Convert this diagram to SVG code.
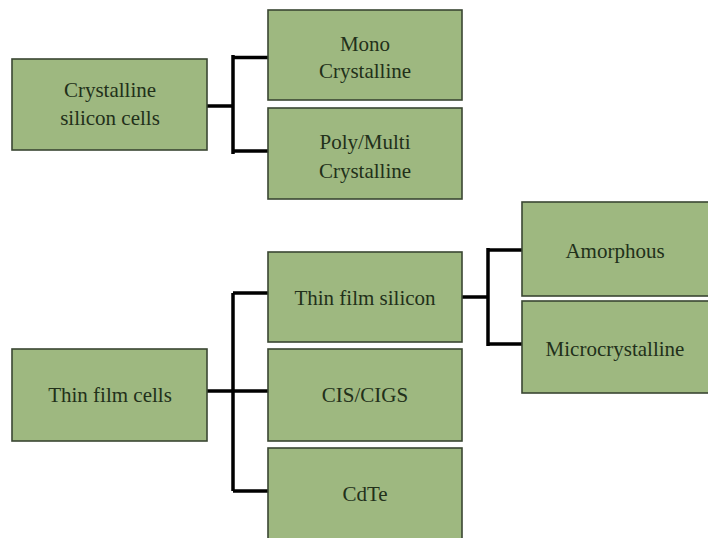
<svg xmlns="http://www.w3.org/2000/svg" width="708" height="538" viewBox="0 0 708 538">
<style>
.box{fill:#9eb880;stroke:#3a4632;stroke-width:1.6}
.t{font-family:"Liberation Serif","Times New Roman",serif;font-size:21px;fill:#22301a;text-anchor:middle}
.c{fill:none;stroke:#000;stroke-width:3.5;stroke-linecap:butt}
</style>
<rect width="708" height="538" fill="#fff"/>
<g id="connectors">
<path class="c" d="M207 106 H233 M233 55 V154 M233 57.5 H268 M233 151 H268"/>
<path class="c" d="M207 391 H233 M233 293 V491 M233 293 H268 M233 391 H268 M233 491 H268"/>
<path class="c" d="M462 297 H488 M488 248 V346 M488 250 H522 M488 344 H522"/>
</g>
<g id="crystalline">
<rect class="box" x="12" y="59" width="195" height="91"/>
<text class="t" x="110" y="97">Crystalline</text>
<text class="t" x="110" y="125">silicon cells</text>
</g>
<g id="mono">
<rect class="box" x="268" y="10" width="194" height="90"/>
<text class="t" x="365" y="51">Mono</text>
<text class="t" x="365" y="78">Crystalline</text>
</g>
<g id="poly">
<rect class="box" x="268" y="108" width="194" height="91"/>
<text class="t" x="365" y="149">Poly/Multi</text>
<text class="t" x="365" y="178">Crystalline</text>
</g>
<g id="thinfilmcells">
<rect class="box" x="12" y="349" width="195" height="92"/>
<text class="t" x="110" y="402">Thin film cells</text>
</g>
<g id="thinfilmsilicon">
<rect class="box" x="268" y="252" width="194" height="90"/>
<text class="t" x="365" y="305">Thin film silicon</text>
</g>
<g id="cis">
<rect class="box" x="268" y="349" width="194" height="92"/>
<text class="t" x="365" y="402">CIS/CIGS</text>
</g>
<g id="cdte">
<rect class="box" x="268" y="448" width="194" height="92"/>
<text class="t" x="365" y="501">CdTe</text>
</g>
<g id="amorphous">
<rect class="box" x="522" y="202" width="190" height="94"/>
<text class="t" x="615" y="258">Amorphous</text>
</g>
<g id="microcrystalline">
<rect class="box" x="522" y="301" width="190" height="92"/>
<text class="t" x="615" y="356">Microcrystalline</text>
</g>
</svg>
